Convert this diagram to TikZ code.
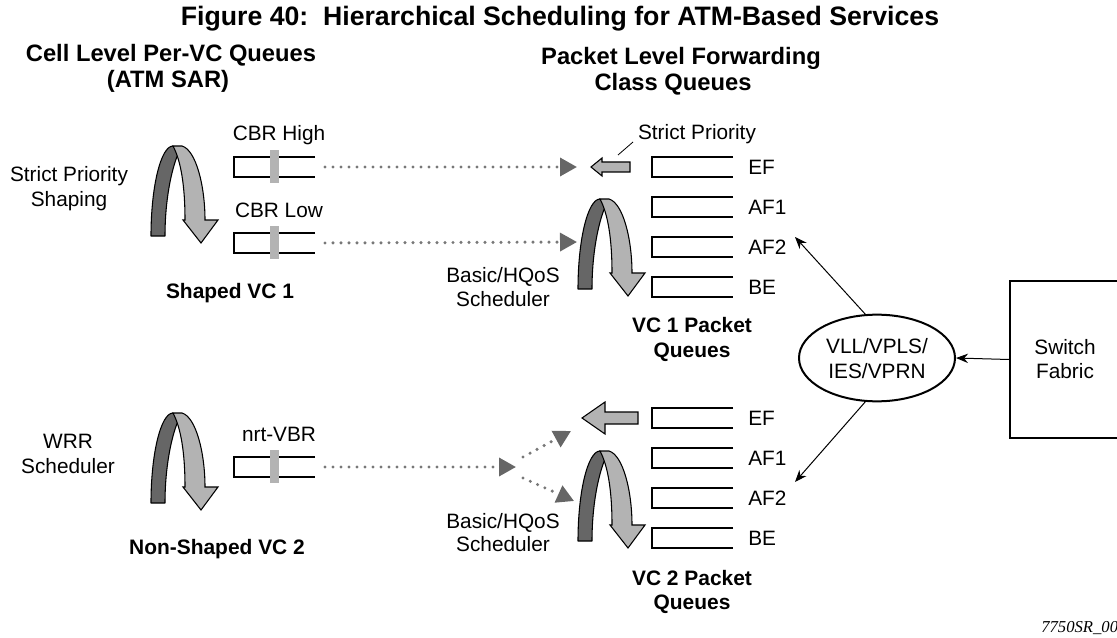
\documentclass[tikz,border=0pt]{standalone}
\usepackage{fontspec}
\setmainfont{Liberation Sans}
\newfontfamily\capserif{Liberation Serif}
\usetikzlibrary{arrows.meta,shapes.geometric}
\definecolor{archdark}{HTML}{666666}
\definecolor{archlight}{HTML}{B3B3B3}
\definecolor{dotgray}{HTML}{787878}
\definecolor{tipgray}{HTML}{666666}
\tikzset{
  txt/.style={font=\fontsize{15.6}{18}\selectfont, inner sep=0pt, anchor=base},
  btxt/.style={font=\fontsize{15.7}{18}\selectfont\bfseries, inner sep=0pt, anchor=base},
  hdr/.style={font=\fontsize{17.8}{20}\selectfont\bfseries, inner sep=0pt, anchor=base},
  qtxt/.style={txt, anchor=base west},
  outline/.style={draw=black, line width=0.8pt},
  dotlink/.style={draw=dotgray, line width=2.6pt, dash pattern=on 0pt off 6pt, line cap=round, -{Triangle[length=12.75pt,width=13.5pt,color=tipgray]}},
  thinarrow/.style={draw=black, line width=0.75pt, -{Stealth[length=9pt,width=7pt]}},
  cellqueue/.pic={
    \draw[outline] (81,0) -- (0,0) -- (0,20) -- (81,20);
    \fill[archlight] (36,-7) rectangle (45,26);
  },
  pktqueue/.pic={
    \draw[outline] (81,0) -- (0,0) -- (0,20) -- (81,20);
  },
  sched/.pic={
    \filldraw[outline, fill=archdark, line join=round] (0,90) .. controls (0,40) and (10,0) .. (22,0) .. controls (24,3) and (26,5) .. (27,8) .. controls (20,25) and (14,55) .. (14,90) -- cycle;
    \filldraw[outline, fill=archlight, line join=miter] (22,0) -- (31,0) .. controls (45,4) and (54,40) .. (54,74) -- (67,74) -- (50,97) -- (32,74) -- (34,74) .. controls (34,40) and (30,15) .. (22,0) -- cycle;
  }
}
\begin{document}
\begin{tikzpicture}[x=0.75pt,y=-0.75pt]
\useasboundingbox (0,0) rectangle (1117,638);
% titles
\node[font=\fontsize{20}{22}\selectfont\bfseries, inner sep=0pt, anchor=base] (title) at (560,26) {Figure 40:\ \ Hierarchical Scheduling for ATM-Based Services};
\node[hdr] (h1a) at (171,62) {Cell Level Per-VC Queues};
\node[hdr] (h1b) at (168,88) {(ATM SAR)};
\node[hdr] (h2a) at (681,65) {Packet Level Forwarding};
\node[hdr] (h2b) at (673,91) {Class Queues};

% left side, shaped VC 1
\pic at (151,146) {sched};
\node[txt] (sp1) at (69,182) {Strict Priority};
\node[txt] (sp2) at (69,206) {Shaping};
\node[txt] (cbrh) at (279,141) {CBR High};
\node[txt] (cbrl) at (279,217) {CBR Low};
\pic at (234,157) {cellqueue};
\pic at (234,233) {cellqueue};
\node[btxt] (svc1) at (230,298) {Shaped VC 1};

% left side, non-shaped VC 2
\pic at (151,413) {sched};
\node[txt] (wrr1) at (68,448) {WRR};
\node[txt] (wrr2) at (68,473) {Scheduler};
\node[txt] (nrt) at (279,441) {nrt-VBR};
\pic at (234,457) {cellqueue};
\node[btxt] (nsvc) at (217,554) {Non-Shaped VC 2};

% right side, VC 1 packet queues
\pic at (578,199) {sched};
\foreach \y/\t in {157/EF,197/AF1,237/AF2,277/BE}{
  \pic at (652,\y) {pktqueue};
  \node[qtxt] at (748,\y+17.5) {\t};
}
\filldraw[outline, fill=archlight] (591,167) -- (602,158) -- (602,162) -- (630,162) -- (630,172) -- (602,172) -- (602,176) -- cycle;
\node[txt] (spr) at (697,140) {Strict Priority};
\coordinate (lead1) at (618,155);
\coordinate (lead2) at (633,142);
\draw[line width=0.6pt] (lead1) -- (lead2);
\node[txt] (bh1a) at (503,282) {Basic/HQoS};
\node[txt] (bh1b) at (503,306) {Scheduler};
\node[btxt] (vc1a) at (692,332) {VC 1 Packet};
\node[btxt] (vc1b) at (692,357) {Queues};

% right side, VC 2 packet queues
\pic at (578,451) {sched};
\foreach \y/\t in {408/EF,448/AF1,488/AF2,528/BE}{
  \pic at (652,\y) {pktqueue};
  \node[qtxt] at (748,\y+17.5) {\t};
}
\filldraw[outline, fill=archlight] (582,418) -- (605,402) -- (605,412) -- (638,412) -- (638,424) -- (605,424) -- (605,434) -- cycle;
\node[txt] (bh2a) at (503,528) {Basic/HQoS};
\node[txt] (bh2b) at (503,551) {Scheduler};
\node[btxt] (vc2a) at (692,585) {VC 2 Packet};
\node[btxt] (vc2b) at (692,609) {Queues};

% dotted connectors
\coordinate (hiout) at (325,167); \coordinate (hiin) at (577,167);
\coordinate (loout) at (325,243); \coordinate (loin) at (577,242);
\draw[dotlink] (hiout) -- (hiin);
\draw[dotlink] (loout) -- (loin);
\coordinate (vbrout) at (325,467); \coordinate (split) at (516,467);
\draw[dotlink] (vbrout) -- (split);
\coordinate (upA) at (523,457); \coordinate (upB) at (571,431);
\coordinate (dnA) at (523,478); \coordinate (dnB) at (574,501);
\draw[dotlink] (upA) -- (upB);
\draw[dotlink] (dnA) -- (dnB);

% services and switch fabric
\node[draw, ellipse, line width=1.5pt, minimum width=117pt, minimum height=65pt, inner sep=0pt] (svc) at (877,358) {};
\node[txt] (svct1) at (877,353) {VLL/VPLS/};
\node[txt] (svct2) at (877,378) {IES/VPRN};
\node[draw, line width=1.5pt, anchor=north west, minimum width=87pt, minimum height=117.75pt, inner sep=0pt] (sf) at (1009,280) {};
\node[txt] (sft1) at (1065,354) {Switch};
\node[txt] (sft2) at (1065,378) {Fabric};
\draw[thinarrow] (sf.west) -- (svc.east);
\coordinate (af2top) at (795,237);
\coordinate (af1bot) at (795,482);
\draw[thinarrow] (svc.105) -- (af2top);
\draw[thinarrow] (svc.255) -- (af1bot);

\node[font=\capserif\itshape\fontsize{12.5}{14}\selectfont, inner sep=0pt, anchor=base west] (code) at (1041,632) {7750SR\_00};
\end{tikzpicture}
\end{document}
